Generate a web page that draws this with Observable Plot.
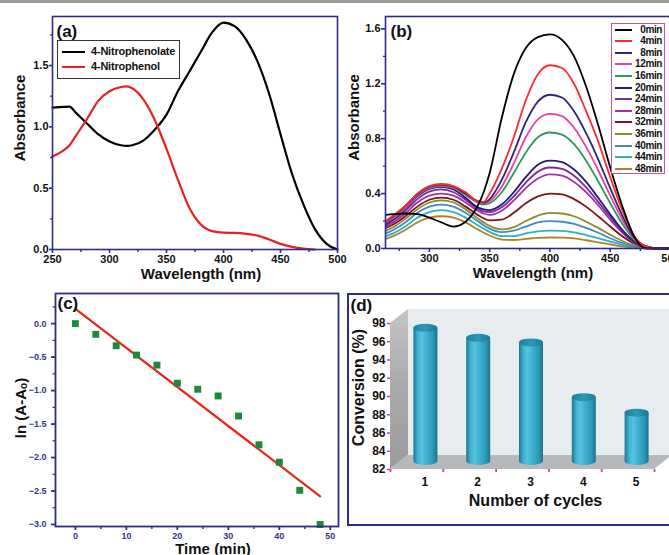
<!DOCTYPE html>
<html><head><meta charset="utf-8">
<script src="https://cdn.jsdelivr.net/npm/d3@7"></script>
<script src="https://cdn.jsdelivr.net/npm/@observablehq/plot@0.6"></script>
<style>
body{margin:0;background:#fff;}
#page{position:relative;width:669px;height:555px;overflow:hidden;background:#fff;font-family:"Liberation Sans",Arial,Helvetica,sans-serif;}
.panel{position:absolute;}
.panel svg{max-width:none;display:block;overflow:visible;}
.topbar{position:absolute;left:0;top:0;width:669px;height:3px;background:#9a9a9a;}
.legA{position:absolute;border:1.3px solid #333;background:#fff;box-sizing:border-box;}
.legB{position:absolute;border:1.5px solid #d04fa0;background:#fff;box-sizing:border-box;}
.lrow{position:absolute;font-weight:bold;color:#111;white-space:nowrap;}
.lline{position:absolute;height:2px;}
.boxD{position:absolute;border:2px solid #2c2c8c;box-sizing:border-box;}
</style></head><body><div id="page"><div class="topbar"></div></div>
<script>
const FONT = '"Liberation Sans", Arial, Helvetica, sans-serif';
const NAVY = "#2c2c8c";

// ---------- Panel (a) data ----------
const aWavelengths = [250,260,265,270,280,290,300,310,315,320,330,340,350,360,370,380,390,400,410,420,430,440,450,460,470,480,490,500];
const aNitrophenolate = [1.157,1.163,1.165,1.12,1.03,0.94,0.88,0.85,0.845,0.85,0.89,0.98,1.10,1.29,1.45,1.61,1.77,1.85,1.82,1.71,1.53,1.27,0.94,0.62,0.37,0.17,0.05,0.0];
const aNitrophenol = [0.758,0.81,0.85,0.92,1.06,1.21,1.29,1.325,1.33,1.315,1.22,1.05,0.82,0.57,0.34,0.205,0.15,0.137,0.135,0.127,0.113,0.082,0.046,0.022,0.007,0.0,null,null];
const aSeriesNames = ["4-Nitrophenolate","4-Nitrophenol"];
const aColors = ["#000000","#e8231d"];
const aXTicks = [250,300,350,400,450,500];
const aXMinor = [275,325,375,425,475];
const aYTicks = [0,0.5,1.0,1.5];
const aYMinor = [0.25,0.75,1.25,1.75];

// ---------- Panel (b) data ----------
const bWavelengths = [264,270,280,290,300,310,320,330,340,345,350,360,370,380,390,400,410,420,430,440,450,460,470,480,490,500];
const bSeriesNames = ["0min","4min","8min","12min","16min","20min","24min","28min","32min","36min","40min","44min","48min"];
const bColors = ["#000000","#ff2a2a","#262680","#ee3fa0","#2c9c55","#221a78","#7d2a9a","#a22fa8","#7a1515","#8c8c2c","#4488c8","#2eb0c0","#b0802c"];
const b0 = [0.245,0.25,0.255,0.25,0.225,0.19,0.16,0.195,0.31,0.41,0.55,0.95,1.27,1.46,1.54,1.56,1.52,1.40,1.18,0.90,0.59,0.31,0.085,0.0,0,0];
const b4 = [0.20,0.24,0.31,0.40,0.455,0.47,0.455,0.41,0.345,0.34,0.40,0.58,0.81,1.08,1.27,1.335,1.315,1.20,1.00,0.78,0.52,0.28,0.09,0.015,0,0];
const b8 = [0.20,0.235,0.31,0.395,0.45,0.465,0.45,0.40,0.345,0.335,0.36,0.50,0.70,0.92,1.07,1.12,1.10,1.00,0.84,0.65,0.44,0.24,0.08,0.015,0,0];
const b12 = [0.19,0.225,0.30,0.39,0.445,0.46,0.445,0.395,0.34,0.33,0.345,0.45,0.62,0.81,0.94,0.98,0.965,0.88,0.74,0.57,0.385,0.21,0.075,0.015,0,0];
const b16 = [0.19,0.22,0.295,0.385,0.44,0.455,0.44,0.39,0.335,0.32,0.33,0.41,0.55,0.70,0.81,0.845,0.83,0.76,0.64,0.49,0.33,0.18,0.065,0.012,0,0];
const b20 = [0.18,0.215,0.29,0.38,0.435,0.45,0.43,0.37,0.30,0.285,0.28,0.32,0.41,0.52,0.61,0.64,0.63,0.575,0.485,0.37,0.25,0.135,0.05,0.01,0,0];
const b24 = [0.17,0.205,0.275,0.36,0.415,0.43,0.41,0.355,0.29,0.27,0.265,0.30,0.38,0.48,0.56,0.59,0.58,0.53,0.445,0.34,0.23,0.125,0.045,0.01,0,0];
const b28 = [0.16,0.19,0.255,0.335,0.385,0.40,0.385,0.335,0.275,0.255,0.245,0.275,0.35,0.44,0.51,0.54,0.53,0.485,0.41,0.315,0.21,0.115,0.04,0.008,0,0];
const b32 = [0.15,0.175,0.235,0.305,0.355,0.37,0.355,0.305,0.245,0.22,0.205,0.21,0.26,0.33,0.38,0.40,0.395,0.36,0.305,0.235,0.16,0.09,0.035,0.007,0,0];
const b36 = [0.13,0.155,0.215,0.285,0.335,0.35,0.335,0.285,0.22,0.19,0.165,0.14,0.155,0.20,0.24,0.26,0.255,0.235,0.195,0.15,0.10,0.055,0.02,0.005,0,0];
const b40 = [0.11,0.135,0.19,0.26,0.305,0.32,0.305,0.26,0.20,0.17,0.145,0.12,0.13,0.16,0.19,0.20,0.195,0.18,0.15,0.115,0.075,0.04,0.015,0.003,0,0];
const b44 = [0.09,0.11,0.16,0.225,0.265,0.28,0.265,0.225,0.17,0.145,0.12,0.09,0.09,0.11,0.125,0.13,0.128,0.118,0.098,0.075,0.05,0.027,0.01,0.002,0,0];
const b48 = [0.07,0.09,0.135,0.19,0.225,0.235,0.225,0.19,0.14,0.115,0.095,0.065,0.062,0.07,0.078,0.08,0.079,0.073,0.06,0.045,0.03,0.016,0.006,0.001,0,0];
const bValues = [b0,b4,b8,b12,b16,b20,b24,b28,b32,b36,b40,b44,b48];
const bXTicks = [300,350,400,450,500];
const bXMinor = [275,325,375,425,475];
const bYTicks = [0,0.4,0.8,1.2,1.6];
const bYMinor = [0.2,0.6,1.0,1.4];

// ---------- Panel (c) data ----------
const cTimes = [0,4,8,12,16,20,24,28,32,36,40,44,48];
const cLnRatio = [0.0,-0.16,-0.33,-0.47,-0.62,-0.89,-0.98,-1.08,-1.38,-1.81,-2.07,-2.49,-3.0];
const cFitTimes = [0,48];
const cFitValues = [0.22,-2.58];
const cXTicks = [0,10,20,30,40,50];
const cXMinor = [5,15,25,35,45];
const cYTicks = [0,-0.5,-1.0,-1.5,-2.0,-2.5,-3.0];
const cYMinor = [0.25,-0.25,-0.75,-1.25,-1.75,-2.25,-2.75];

// ---------- Panel (d) data ----------
const dCycles = [1,2,3,4,5];
const dConversion = [96.6,95.5,95.0,89.0,87.3];
const dYTicks = [82,84,86,88,90,92,94,96,98];
const dXBounds = [0.5,1.5,2.5,3.5,4.5,5.5];

const page = document.getElementById("page");
function place(node, left, top, w) {
  const d = document.createElement("div");
  d.className = "panel";
  d.style.left = left + "px"; d.style.top = top + "px"; d.style.width = w + "px";
  d.appendChild(node);
  page.appendChild(d);
  return d;
}
const baseStyle = {fontFamily: FONT, fontSize: "11px", fontWeight: "bold", background: "transparent", color: "#111", overflow: "visible"};
const blank = () => "";
const txt = (s, o) => Plot.text([s], Object.assign({text: d => d, lineAnchor: "middle", textAnchor: "middle", fontWeight: "bold", fill: "#111"}, o));

// ---------- Panel (a) ----------
const aRows = [];
aSeriesNames.forEach((s, k) => {
  const vals = k === 0 ? aNitrophenolate : aNitrophenol;
  aWavelengths.forEach((w, i) => aRows.push({w, v: vals[i], s}));
});
const plotA = Plot.plot({
  width: 340, height: 280, marginLeft: 52, marginRight: 3, marginTop: 16, marginBottom: 31,
  style: baseStyle,
  x: {domain: [250, 500]}, y: {domain: [0, 1.9]},
  color: {domain: aSeriesNames, range: aColors},
  marks: [
    Plot.line(aRows, {x: "w", y: "v", z: "s", stroke: "s", strokeWidth: 2.2, curve: "monotone-x"}),
    Plot.frame({stroke: NAVY, strokeWidth: 1.6}),
    Plot.axisX({ticks: aXTicks, tickSize: 4, tickPadding: 2, stroke: NAVY, strokeWidth: 1.6, fill: "#111", label: null, tickFormat: d => String(d)}),
    Plot.axisX({ticks: aXMinor, tickSize: 3, stroke: NAVY, strokeWidth: 1.4, label: null, tickFormat: blank}),
    Plot.axisY({ticks: aYTicks, tickSize: 3, tickPadding: 1, stroke: NAVY, strokeWidth: 1.6, fill: "#111", label: null, tickFormat: d3.format(".1f")}),
    Plot.axisY({ticks: aYMinor, tickSize: 2, stroke: NAVY, strokeWidth: 1.2, label: null, tickFormat: blank}),
    txt("Wavelength (nm)", {frameAnchor: "bottom", dx: 6, dy: 25, fontSize: 15}),
    txt("Absorbance", {frameAnchor: "left", rotate: -90, dx: -32, dy: -15, fontSize: 15}),
    txt("(a)", {frameAnchor: "top-left", textAnchor: "start", dx: 4, dy: 15, fontSize: 17})
  ]
});
place(plotA, 0, 0, 340);

// legend (a)
(function(){
  const box = document.createElement("div");
  box.className = "legA";
  Object.assign(box.style, {left: "57px", top: "40px", width: "123px", height: "39px"});
  page.appendChild(box);
  aSeriesNames.forEach((s, i) => {
    const y = 52 + i * 15;
    const l = document.createElement("div");
    l.className = "lline";
    Object.assign(l.style, {left: "62px", top: (y - 1) + "px", width: "23px", background: aColors[i], height: "2.2px"});
    page.appendChild(l);
    const t = document.createElement("div");
    t.className = "lrow";
    t.textContent = s;
    Object.assign(t.style, {left: "91px", top: (y - 7) + "px", fontSize: "11px", lineHeight: "13px", letterSpacing: "-0.2px"});
    page.appendChild(t);
  });
})();

// ---------- Panel (b) ----------
const bRows = [];
for (let k = bSeriesNames.length - 1; k >= 0; k--) {
  bWavelengths.forEach((w, i) => bRows.push({w, v: bValues[k][i], s: bSeriesNames[k]}));
}
const plotB = Plot.plot({
  width: 339, height: 280, marginLeft: 52, marginRight: 2, marginTop: 16, marginBottom: 32,
  style: baseStyle,
  x: {domain: [263.6, 500]}, y: {domain: [0, 1.69]},
  color: {domain: bSeriesNames, range: bColors},
  marks: [
    Plot.line(bRows, {x: "w", y: "v", z: "s", stroke: "s", strokeWidth: 1.8, curve: "monotone-x"}),
    Plot.frame({stroke: NAVY, strokeWidth: 1.6}),
    Plot.axisX({ticks: bXTicks, tickSize: 4, tickPadding: 2, stroke: NAVY, strokeWidth: 1.6, fill: "#111", label: null, tickFormat: d => String(d)}),
    Plot.axisX({ticks: bXMinor, tickSize: 3, stroke: NAVY, strokeWidth: 1.4, label: null, tickFormat: blank}),
    Plot.axisY({ticks: bYTicks, tickSize: 4, tickPadding: 1, stroke: NAVY, strokeWidth: 1.6, fill: "#111", label: null, tickFormat: d3.format(".1f")}),
    Plot.axisY({ticks: bYMinor, tickSize: 2, stroke: NAVY, strokeWidth: 1.2, label: null, tickFormat: blank}),
    txt("Wavelength (nm)", {frameAnchor: "bottom", dx: 5, dy: 25, fontSize: 15}),
    txt("Absorbance", {frameAnchor: "left", rotate: -90, dx: -31, dy: -15, fontSize: 15}),
    txt("(b)", {frameAnchor: "top-left", textAnchor: "start", dx: 5, dy: 15, fontSize: 17})
  ]
});
place(plotB, 333, 0, 339);

// legend (b)
(function(){
  const box = document.createElement("div");
  box.className = "legB";
  Object.assign(box.style, {left: "611px", top: "23px", width: "54px", height: "151px"});
  page.appendChild(box);
  bSeriesNames.forEach((s, i) => {
    const y = 29.5 + i * 11.6;
    const l = document.createElement("div");
    l.className = "lline";
    Object.assign(l.style, {left: "615px", top: (y - 1) + "px", width: "17px", background: bColors[i]});
    page.appendChild(l);
    const t = document.createElement("div");
    t.className = "lrow";
    t.textContent = s;
    Object.assign(t.style, {right: (669 - 662) + "px", top: (y - 6) + "px", fontSize: "10px", lineHeight: "12px", letterSpacing: "-0.4px"});
    page.appendChild(t);
  });
})();

// ---------- Panel (c) ----------
const cPoints = cTimes.map((t, i) => ({t, v: cLnRatio[i]}));
const cFit = cFitTimes.map((t, i) => ({t, v: cFitValues[i]}));
const CNAVY = "#34348e";
const plotC = Plot.plot({
  width: 340, height: 285, marginLeft: 55, marginRight: 2, marginTop: 23, marginBottom: 29,
  style: baseStyle,
  x: {domain: [-3.9, 51.6]}, y: {domain: [-3.03, 0.45]},
  marks: [
    Plot.line(cFit, {x: "t", y: "v", stroke: "#e8261e", strokeWidth: 2.2}),
    Plot.dot(cPoints, {x: "t", y: "v", symbol: "square", r: 3.9, fill: "#1d8a3b", stroke: "none"}),
    Plot.frame({stroke: NAVY, strokeWidth: 1.8}),
    Plot.axisX({ticks: cXTicks, tickSize: 4, tickPadding: 2, stroke: NAVY, strokeWidth: 1.8, fill: CNAVY, fontSize: 9, label: null, tickFormat: d => String(d)}),
    Plot.axisX({ticks: cXMinor, tickSize: 3, stroke: NAVY, strokeWidth: 1.4, label: null, tickFormat: blank}),
    Plot.axisY({ticks: cYTicks, tickSize: 4, tickPadding: 5, stroke: NAVY, strokeWidth: 1.8, fill: CNAVY, fontSize: 9, label: null, tickFormat: d3.format(".1f")}),
    Plot.axisY({ticks: cYMinor, tickSize: 2.5, stroke: NAVY, strokeWidth: 1.2, label: null, tickFormat: blank}),
    txt("Time (min)", {frameAnchor: "bottom", dx: 16, dy: 23, fontSize: 15}),
    txt("ln (A-A\u2092)", {frameAnchor: "left", rotate: -90, dx: -34, dy: -2, fontSize: 15}),
    txt("(c)", {frameAnchor: "top-left", textAnchor: "start", dx: 2, dy: 10, fontSize: 17})
  ]
});
place(plotC, 0, 270, 340);

// ---------- Panel (d) ----------
const boxD = document.createElement("div");
boxD.className = "boxD";
Object.assign(boxD.style, {left: "347px", top: "293px", width: "326px", height: "233px"});
page.appendChild(boxD);

function scene3D(index, scales, values, dimensions, context) {
  const x = scales.x, y = scales.y;
  const g = d3.create("svg:g");
  const defs = g.append("defs");
  const body = defs.append("linearGradient").attr("id", "cylBody").attr("x1", "0").attr("x2", "1").attr("y1", "0").attr("y2", "0");
  [[0, "#1c7690"], [0.18, "#3fb2d2"], [0.35, "#55c3df"], [0.6, "#3badcd"], [0.85, "#2a94b3"], [1, "#1a6f88"]]
    .forEach(([o, c]) => body.append("stop").attr("offset", o).attr("stop-color", c));
  const topG = defs.append("linearGradient").attr("id", "cylTop").attr("x1", "0").attr("x2", "1");
  [[0, "#1f7f9a"], [0.5, "#2e98b6"], [1, "#1d7a94"]].forEach(([o, c]) => topG.append("stop").attr("offset", o).attr("stop-color", c));
  const side = defs.append("linearGradient").attr("id", "sideWall").attr("x1", "0").attr("x2", "0").attr("y1", "0").attr("y2", "1");
  [[0, "#c4c4c4"], [0.5, "#a9a9a9"], [1, "#9c9c9c"]].forEach(([o, c]) => side.append("stop").attr("offset", o).attr("stop-color", c));

  const DX = 18, DY = -14;
  const x0 = x(dXBounds[0]), x1 = x(dXBounds[dXBounds.length - 1]);
  const yT = y(dYTicks[dYTicks.length - 1]), yB = y(dYTicks[0]);
  g.append("rect").attr("x", x0 + DX).attr("y", yT + DY).attr("width", x1 - x0 + 4).attr("height", yB - yT).attr("fill", "#e7ecef");
  g.append("path").attr("d", `M${x0},${yT}L${x0 + DX},${yT + DY}L${x0 + DX},${yB + DY}L${x0},${yB}Z`).attr("fill", "url(#sideWall)");
  g.append("path").attr("d", `M${x0},${yB}L${x0 + DX},${yB + DY}L${x1 + DX},${yB + DY}L${x1},${yB}Z`).attr("fill", "#b6b9bc");
  const rx = 12, ry = 4, mx = DX / 2, my = DY / 2 - 1;
  dCycles.forEach((c, i) => {
    const cx = x(c) + mx, top = y(dConversion[i]) + my, bot = yB + my;
    g.append("path")
      .attr("d", `M${cx - rx},${top}L${cx - rx},${bot}A${rx},${ry} 0 0 0 ${cx + rx},${bot}L${cx + rx},${top}Z`)
      .attr("fill", "url(#cylBody)");
    g.append("ellipse").attr("cx", cx).attr("cy", top).attr("rx", rx).attr("ry", ry).attr("fill", "url(#cylTop)");
  });
  return g.node();
}

const PINK = "#e0359c";
const plotD = Plot.plot({
  width: 325, height: 233, marginLeft: 43, marginRight: 18, marginTop: 30, marginBottom: 57,
  style: baseStyle,
  x: {domain: [0.5, 5.5]}, y: {domain: [82, 98]},
  marks: [
    scene3D,
    Plot.axisY({ticks: dYTicks, tickSize: 3, tickPadding: 2, stroke: PINK, strokeWidth: 1.5, fill: "#111", fontSize: 12, label: null, tickFormat: d => String(d)}),
    Plot.axisX({ticks: dXBounds, tickSize: 3, stroke: PINK, strokeWidth: 1.8, label: null, tickFormat: blank}),
    Plot.axisX({ticks: dCycles, tickSize: 0, tickPadding: 8, dx: 8, fill: "#111", fontSize: 12, label: null, tickFormat: d => String(d)}),
    txt("Number of cycles", {frameAnchor: "bottom", dx: 13, dy: 31, fontSize: 16}),
    txt("Conversion (%)", {frameAnchor: "left", rotate: -90, dx: -32, dy: -9, fontSize: 16}),
    txt("(d)", {frameAnchor: "top-left", textAnchor: "start", dx: -40, dy: -18, fontSize: 17})
  ]
});
place(plotD, 347, 293, 325);
</script></body></html>
